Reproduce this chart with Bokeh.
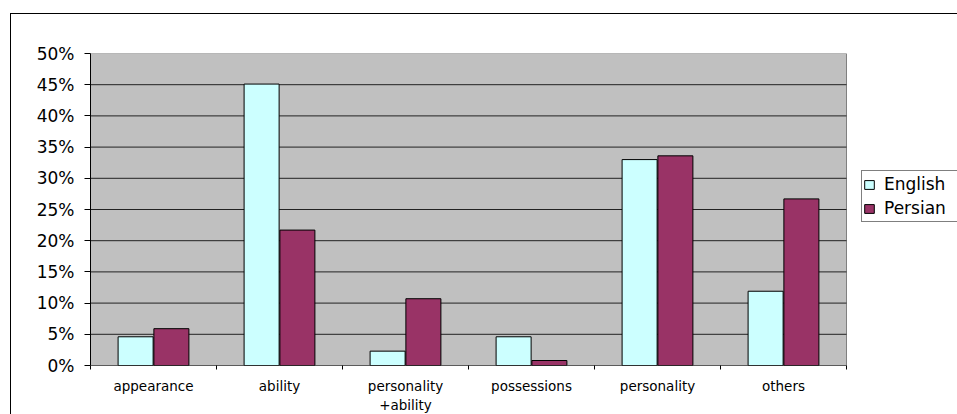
from bokeh.plotting import figure
from bokeh.models import (FixedTicker, Legend, LegendItem, Range1d,
                          PrintfTickFormatter, ColumnDataSource)
from bokeh.embed import file_html
from bokeh.resources import INLINE

categories = ["appearance", "ability", "personality\n+ability", "possessions", "personality", "others"]
english = [4.6, 45.1, 2.3, 4.6, 33.0, 11.9]
persian = [5.9, 21.7, 10.7, 0.8, 33.6, 26.7]
y_ticks = [0, 5, 10, 15, 20, 25, 30, 35, 40, 45, 50]

n = len(categories)
ymax = y_ticks[-1]
centers = [i + 0.5 for i in range(n)]
bounds = [i for i in range(n + 1)]

src = ColumnDataSource(dict(
    xe=[c - 0.142 for c in centers],
    xp=[c + 0.142 for c in centers],
    english=english,
    persian=persian,
))

FIG_W, FIG_H = 947, 401
LEFT, TOP, BOTTOM = 79, 39, 44
PLOT_W = 756  # pixel width of the grey category area
frame_w = FIG_W - LEFT
x_end = n * frame_w / PLOT_W

p = figure(width=FIG_W, height=FIG_H,
           x_range=Range1d(0, x_end), y_range=Range1d(0, ymax),
           output_backend="svg", toolbar_location=None,
           min_border_left=LEFT, min_border_top=TOP,
           min_border_right=0, min_border_bottom=BOTTOM)
p.margin = (13, 0, 0, 10)
p.styles = {"border-top": "1px solid black", "border-left": "1px solid black"}

p.background_fill_color = "white"
p.border_fill_color = "white"
p.outline_line_color = None

# grey plot area
p.quad(left=[0], right=[n], bottom=[0], top=[ymax],
       fill_color="#C0C0C0", line_color="#808080", line_width=1)
# horizontal grid lines
grid_y = y_ticks[1:-1]
p.segment(x0=[0] * len(grid_y), x1=[n] * len(grid_y), y0=grid_y, y1=grid_y,
          line_color="#222222", line_width=1)

r1 = p.vbar(x="xe", top="english", width=0.278, source=src,
            fill_color="#CCFFFF", line_color="black", line_width=1)
r2 = p.vbar(x="xp", top="persian", width=0.278, source=src,
            fill_color="#993366", line_color="black", line_width=1)

# x axis baseline
p.segment(x0=[0], x1=[n], y0=[0], y1=[0], line_color="black", line_width=1)

p.xgrid.grid_line_color = None
p.ygrid.grid_line_color = None

# y axis
p.yaxis.ticker = FixedTicker(ticks=y_ticks)
p.yaxis.formatter = PrintfTickFormatter(format="%d%%")
p.yaxis.axis_line_color = "black"
p.yaxis.major_tick_line_color = "black"
p.yaxis.major_tick_out = 6
p.yaxis.major_tick_in = 0
p.yaxis.minor_tick_line_color = None
p.yaxis.major_label_standoff = 10
p.yaxis.major_label_text_font = "DejaVu Sans"
p.yaxis.major_label_text_font_size = "17px"
p.yaxis.major_label_text_color = "black"

# x axis: labels at centers, tick marks at boundaries
p.xaxis.ticker = FixedTicker(ticks=centers, minor_ticks=bounds)
p.xaxis.major_label_overrides = {c: lab for c, lab in zip(centers, categories)}
p.xaxis.axis_line_color = None
p.xaxis.major_tick_out = 0
p.xaxis.major_tick_in = 0
p.xaxis.minor_tick_out = 4
p.xaxis.minor_tick_in = 0
p.xaxis.minor_tick_line_color = "black"
p.xaxis.major_label_standoff = 8
p.xaxis.major_label_text_font = "DejaVu Sans"
p.xaxis.major_label_text_font_size = "13.5px"
p.xaxis.major_label_text_color = "black"

legend = Legend(items=[LegendItem(label="English", renderers=[r1]),
                       LegendItem(label="Persian", renderers=[r2])],
                location=(771, 143))
legend.label_text_font = "DejaVu Sans"
legend.label_text_font_size = "17px"
legend.label_text_color = "black"
legend.glyph_width = 12
legend.glyph_height = 11
legend.label_height = 24
legend.label_width = 95
legend.label_standoff = 9
legend.spacing = 0
legend.padding = 1
legend.margin = 0
legend.border_line_color = "black"
legend.border_line_width = 1
legend.background_fill_color = "white"
legend.background_fill_alpha = 1
p.add_layout(legend)

open("out.html", "w").write(file_html(p, INLINE))
